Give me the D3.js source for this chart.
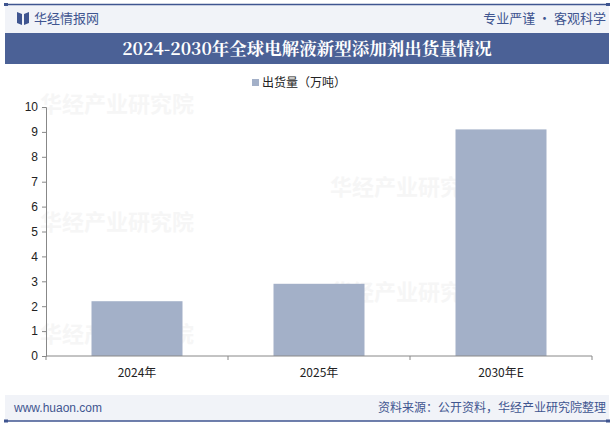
<!DOCTYPE html>
<html>
<head>
<meta charset="utf-8">
<script src="https://cdn.jsdelivr.net/npm/d3@7"></script>
<style>
  body { margin: 0; background: #fff; }
  svg { display: block; font-family: "Noto Sans CJK SC", "Liberation Sans", sans-serif; }
</style>
</head>
<body>
<div id="chart"></div>
<script>
// Chart data
const categories = ["2024年", "2025年", "2030年E"];
const shipments = [2.2, 2.9, 9.1];
const yTicks = [0, 1, 2, 3, 4, 5, 6, 7, 8, 9, 10];
const seriesName = "出货量（万吨）";

const W = 614, H = 425;
const navy = "#3f5590";

const svg = d3.select("#chart")
    .append("svg")
    .attr("width", W)
    .attr("height", H);

// Header band and lines
svg.append("rect").attr("x", 5).attr("y", 5).attr("width", 604).attr("height", 28).attr("fill", "#f1f3f8");
svg.append("line").attr("x1", 5).attr("x2", 609).attr("y1", 4.5).attr("y2", 4.5)
    .attr("stroke", navy).attr("stroke-width", 1.5);
svg.append("rect").attr("x", 4).attr("y", 3).attr("width", 4).attr("height", 3).attr("fill", navy);
svg.append("rect").attr("x", 606).attr("y", 3).attr("width", 4).attr("height", 3).attr("fill", navy);

// Logo
svg.append("path")
    .attr("d", "M17,12 L22,14 L22,25 L17,23 Z M24,14 L29,12 L29,23 L24,25 Z")
    .attr("fill", navy);
svg.append("text").attr("x", 34).attr("y", 23).attr("font-size", 13)
    .attr("fill", navy).text("华经情报网");
svg.append("text").attr("x", 606).attr("y", 23).attr("font-size", 13)
    .attr("text-anchor", "end").attr("fill", navy).text("专业严谨 • 客观科学");

// Title bar
svg.append("rect").attr("x", 5).attr("y", 33).attr("width", 604).attr("height", 31).attr("fill", "#4b6196");
svg.append("text").attr("x", W / 2).attr("y", 55).attr("text-anchor", "middle")
    .attr("font-size", 17.5).attr("font-weight", "bold").attr("fill", "#fff")
    .attr("font-family", "'Noto Serif CJK SC', 'Noto Sans CJK SC', serif")
    .text("2024-2030年全球电解液新型添加剂出货量情况");

// Footer band
svg.append("rect").attr("x", 5).attr("y", 395).attr("width", 604).attr("height", 26).attr("fill", "#f1f3f8");
svg.append("line").attr("x1", 5).attr("x2", 609).attr("y1", 421).attr("y2", 421)
    .attr("stroke", navy).attr("stroke-width", 1.5);
svg.append("rect").attr("x", 4).attr("y", 419.5).attr("width", 4).attr("height", 3).attr("fill", navy);
svg.append("rect").attr("x", 606).attr("y", 419.5).attr("width", 4).attr("height", 3).attr("fill", navy);
svg.append("text").attr("x", 14).attr("y", 412).attr("font-size", 12)
    .attr("font-family", "'Liberation Sans', Arial, sans-serif")
    .attr("fill", navy).text("www.huaon.com");
svg.append("text").attr("x", 606).attr("y", 412).attr("font-size", 12)
    .attr("text-anchor", "end").attr("fill", navy).text("资料来源：公开资料，华经产业研究院整理");

// Faint watermarks
const marks = [[40, 112], [330, 195], [40, 230], [330, 300], [40, 342]];
marks.forEach(([mx, my]) => {
    svg.append("text").attr("x", mx).attr("y", my).attr("font-size", 22)
        .attr("font-weight", "bold").attr("fill", "#f6f6f6").text("华经产业研究院");
});

// Plot area
const plot = { left: 46, right: 592, top: 107, bottom: 356 };

const x = d3.scaleBand()
    .domain(categories)
    .range([plot.left, plot.right])
    .paddingInner(0.5)
    .paddingOuter(0.25);

const y = d3.scaleLinear()
    .domain([0, 10])
    .range([plot.bottom, plot.top]);

// Bars
svg.append("g").selectAll("rect")
    .data(shipments)
    .join("rect")
    .attr("x", (d, i) => x(categories[i]))
    .attr("y", d => y(d))
    .attr("width", x.bandwidth())
    .attr("height", d => y(0) - y(d))
    .attr("fill", "#a3b0c8");

// Y axis
const yAxis = svg.append("g")
    .attr("transform", `translate(${plot.left},0)`)
    .call(d3.axisLeft(y).tickValues(yTicks).tickSize(4).tickPadding(4));
yAxis.selectAll("path, line").attr("stroke", "#888");
yAxis.selectAll("text").attr("font-size", 12).attr("fill", "#222")
    .attr("font-family", "'Liberation Sans', Arial, sans-serif");

// X axis with ticks between categories
const xAxis = svg.append("g")
    .attr("transform", `translate(0,${plot.bottom})`);
xAxis.append("line").attr("x1", plot.left).attr("x2", plot.right)
    .attr("stroke", "#888");
const step = x.step();
const edges = categories.map((c, i) => x(c) - step * x.paddingInner() / 2);
edges.push(plot.right);
xAxis.selectAll(".tk").data(edges).join("line")
    .attr("x1", d => d).attr("x2", d => d).attr("y1", 0).attr("y2", 4)
    .attr("stroke", "#888");
xAxis.selectAll(".lbl").data(categories).join("text")
    .attr("x", d => x(d) + x.bandwidth() / 2)
    .attr("y", 21)
    .attr("text-anchor", "middle")
    .attr("font-size", 12)
    .attr("fill", "#222")
    .text(d => d);

// Legend
svg.append("rect").attr("x", 252).attr("y", 79).attr("width", 7).attr("height", 7).attr("fill", "#a3b0c8");
svg.append("text").attr("x", 262).attr("y", 87).attr("font-size", 12)
    .attr("fill", "#222").text(seriesName);
</script>
</body>
</html>
